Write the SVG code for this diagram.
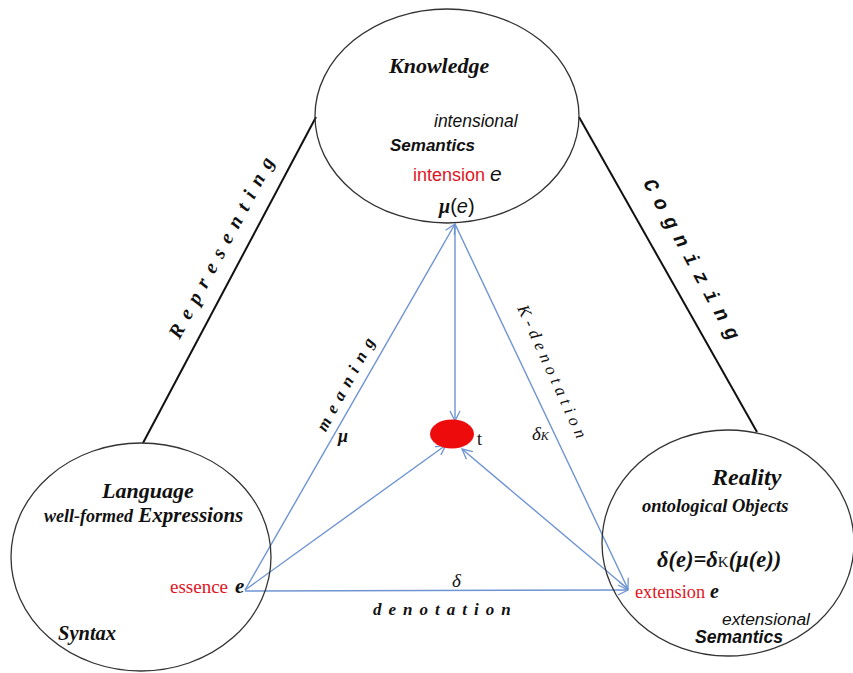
<svg xmlns="http://www.w3.org/2000/svg" width="853" height="673" viewBox="0 0 853 673">
<defs>
<marker id="arr" markerUnits="userSpaceOnUse" markerWidth="14" markerHeight="14" refX="11" refY="6" orient="auto" viewBox="0 0 14 12">
<path d="M1,1 L11,6 L1,11" fill="none" stroke="#6f94d2" stroke-width="1.3"/>
</marker>
<style>
.ell{fill:none;stroke:#333;stroke-width:1.3}
.edge{stroke:#111;stroke-width:2;fill:none}
.blue{stroke:#6f94d2;stroke-width:1.4;fill:none;marker-end:url(#arr)}
.sbi{font-family:"Liberation Serif",serif;font-weight:bold;font-style:italic;fill:#111}
.sr{font-family:"Liberation Serif",serif;fill:#e0141e}
.si{font-family:"Liberation Serif",serif;font-style:italic;fill:#111}
.ai{font-family:"Liberation Sans",sans-serif;font-style:italic;fill:#111}
.abi{font-family:"Liberation Sans",sans-serif;font-style:italic;font-weight:bold;fill:#111}
.ar{font-family:"Liberation Sans",sans-serif;fill:#e0141e}
</style>
</defs>
<rect width="853" height="673" fill="#fff"/>
<g id="edges">
<line class="edge" x1="143" y1="443" x2="316" y2="117"/>
<line class="edge" x1="579" y1="117" x2="757" y2="432"/>
<text class="sbi" font-size="20" letter-spacing="8.5" text-anchor="middle" transform="translate(229,247) rotate(-62)">Representing</text>
<text font-family="'Liberation Mono',monospace" font-weight="bold" font-style="italic" font-size="20" letter-spacing="9" fill="#111" text-anchor="middle" transform="translate(688,266) rotate(61.4)">Cognizing</text>
</g>
<g id="connectors">
<line class="blue" x1="245" y1="590" x2="455" y2="224"/>
<line class="blue" x1="455" y1="224" x2="455" y2="421"/>
<line class="blue" x1="455" y1="224" x2="628" y2="589"/>
<line class="blue" x1="245" y1="590" x2="446" y2="445"/>
<line class="blue" x1="628" y1="589" x2="462" y2="449"/>
<line class="blue" x1="245" y1="591" x2="628" y2="590"/>
<text class="sbi" font-size="17" letter-spacing="7" text-anchor="middle" transform="translate(352,384) rotate(-61.5)">meaning</text>
<text class="sbi" font-size="18" x="338" y="442">μ</text>
<text class="si" font-size="17" letter-spacing="5" text-anchor="middle" transform="translate(548,376) rotate(65.5)">K-denotation</text>
<text class="si" font-size="19" x="532" y="440">δ<tspan font-size="12">K</tspan></text>
<text class="si" font-size="19" x="452" y="587">δ</text>
<text class="sbi" font-size="17" letter-spacing="7" x="373" y="615">denotation</text>
</g>
<g id="knowledge">
<ellipse class="ell" cx="447" cy="116" rx="132" ry="107"/>
<text class="sbi" font-size="22" x="389" y="73">Knowledge</text>
<text class="ai" font-size="17.5" x="434" y="127">intensional</text>
<text class="abi" font-size="17" x="390" y="151">Semantics</text>
<text class="ar" font-size="18" x="413" y="181">intension</text>
<text class="ai" font-size="21" x="490" y="181">e</text>
<text font-size="20" x="439" y="213"><tspan class="si" font-weight="bold">μ</tspan><tspan font-family="'Liberation Sans',sans-serif" fill="#111">(<tspan font-style="italic">e</tspan>)</tspan></text>
</g>
<g id="language">
<ellipse class="ell" cx="141" cy="557" rx="130" ry="114"/>
<text class="sbi" font-size="22" x="102" y="498">Language</text>
<text class="sbi" x="44" y="522"><tspan font-size="18">well-formed</tspan><tspan font-size="21"> Expressions</tspan></text>
<text class="sr" font-size="19" x="170" y="593">essence</text>
<text class="sbi" font-size="21" x="235" y="593">e</text>
<text class="sbi" font-size="20.5" x="58" y="640">Syntax</text>
</g>
<g id="reality">
<ellipse class="ell" cx="728" cy="543" rx="126" ry="113"/>
<text class="sbi" font-size="24" x="712" y="485">Reality</text>
<text class="sbi" font-size="18.5" x="642" y="512">ontological Objects</text>
<text class="sbi" font-size="22.5" x="657" y="567">δ(e)=δ<tspan font-weight="normal" font-style="normal" font-size="15">K</tspan>(μ(e))</text>
<text class="sr" font-size="18.3" x="635" y="598">extension</text>
<text class="sbi" font-size="20" x="710" y="598">e</text>
<text class="ai" font-size="17.4" x="722" y="625">extensional</text>
<text class="abi" font-size="17.6" x="695" y="643">Semantics</text>
</g>
<g id="t">
<ellipse cx="452" cy="434" rx="22" ry="14.5" fill="#ee0b0b"/>
<text font-family="'Liberation Serif',serif" font-size="18" fill="#111" x="477" y="445">t</text>
</g>
</svg>
